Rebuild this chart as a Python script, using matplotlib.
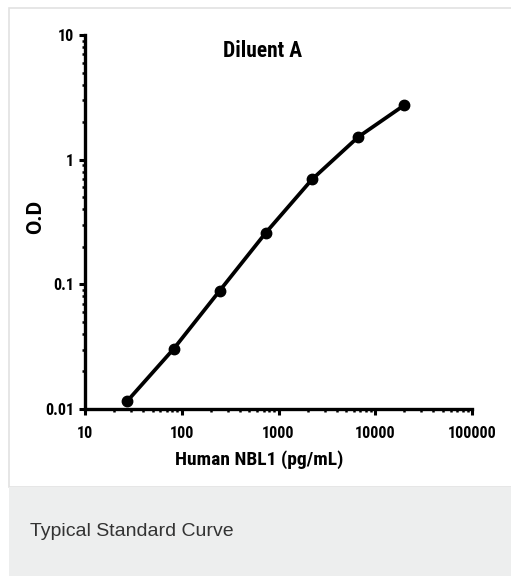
import matplotlib
matplotlib.use('Agg')
import matplotlib.pyplot as plt
from matplotlib.patches import Rectangle
from matplotlib.ticker import LogLocator, FixedLocator, NullFormatter

# data
conc = [27.4, 82.3, 247, 741, 2222, 6667, 20000]
od = [0.0116, 0.0303, 0.089, 0.26, 0.695, 1.52, 2.74]
x_ticks = [10, 100, 1000, 10000, 100000]
x_labels = ['10', '100', '1000', '10000', '100000']
y_ticks = [0.01, 0.1, 1, 10]
y_labels = ['0.01', '0.1', '1', '10']

W, H = 511, 576
narrow = ['Roboto Condensed', 'DejaVu Sans']
sans = ['Roboto', 'DejaVu Sans']

fig = plt.figure(figsize=(W / 100, H / 100), dpi=100)
fig.patch.set_facecolor('white')

def px(x0, y0, x1, y1):
    # pixel box (top-left origin) -> figure fraction rect
    return (x0 / W, 1 - y1 / H, (x1 - x0) / W, (y1 - y0) / H)

# panel frame and caption strip
x0, y0, w, h = px(9, 8, 512, 487)
fig.patches.append(Rectangle((x0, y0), w, h, transform=fig.transFigure,
                             facecolor='white', edgecolor='#e2e2e2', lw=1.2, zorder=-10))
x0, y0, w, h = px(9, 487, 512, 577)
fig.patches.append(Rectangle((x0, y0), w, h, transform=fig.transFigure,
                             facecolor='#edeeee', edgecolor='none', zorder=-10))
fig.text(30 / W, 1 - 531 / H, 'Typical Standard Curve', fontsize=14,
         color='#333333', va='center', ha='left', family=['Liberation Sans', 'DejaVu Sans'])

ax = fig.add_axes(px(85, 35, 472, 409))
ax.patch.set_alpha(0)
ax.set_xscale('log')
ax.set_yscale('log')
ax.set_xlim(10, 100000)
ax.set_ylim(0.01, 10)

ax.plot(conc, od, '-', color='black', lw=2.7, marker='o', ms=7.5, clip_on=False, zorder=5)

for s in ['top', 'right']:
    ax.spines[s].set_visible(False)
for s in ['left', 'bottom']:
    ax.spines[s].set_linewidth(2.4)

ax.xaxis.set_major_locator(FixedLocator(x_ticks))
ax.set_xticklabels(x_labels)
ax.yaxis.set_major_locator(FixedLocator(y_ticks))
ax.set_yticklabels(y_labels)
ax.xaxis.set_minor_locator(LogLocator(base=10, subs=range(2, 10)))
ax.yaxis.set_minor_locator(LogLocator(base=10, subs=range(2, 10)))
ax.xaxis.set_minor_formatter(NullFormatter())
ax.yaxis.set_minor_formatter(NullFormatter())
ax.tick_params(which='major', direction='out', length=4, width=2.2)
ax.tick_params(which='minor', direction='out', length=2.5, width=1.8)
ax.tick_params(axis='x', which='major', pad=8)
ax.tick_params(axis='y', which='major', pad=4)

for lab in ax.get_xticklabels() + ax.get_yticklabels():
    lab.set_family(narrow)
    lab.set_fontweight('bold')
    lab.set_fontsize(11.5)

fig.text(259 / W, 1 - 460 / H, 'Human NBL1 (pg/mL)', ha='center', va='center',
         family=narrow, fontweight='bold', fontsize=14)
fig.text(36 / W, 1 - 217 / H, 'O.D', rotation=90, ha='center', va='center',
         family=sans, fontweight='bold', fontsize=15)
ax.text(0.46, 0.957, 'Diluent A', transform=ax.transAxes, ha='center', va='center',
        family=narrow, fontweight='bold', fontsize=15.5)

fig.savefig('out.png', dpi=100)
